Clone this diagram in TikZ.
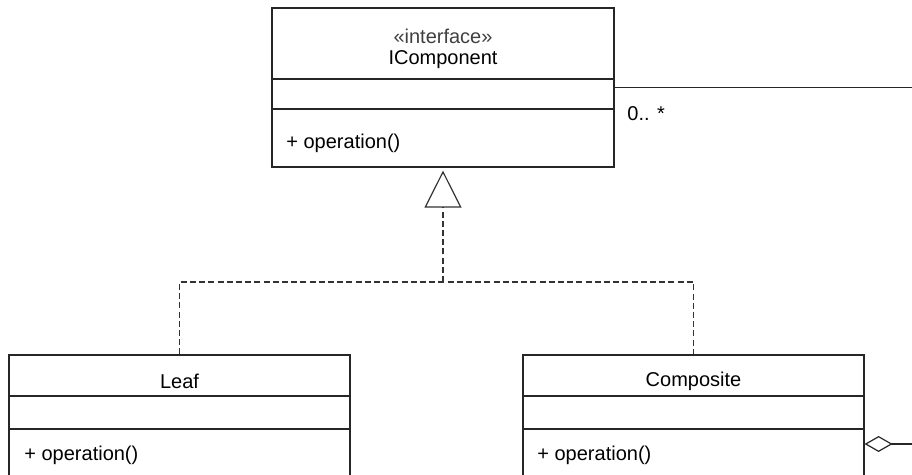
\documentclass[tikz,border=0pt]{standalone}
\usepackage{fontspec}
\setmainfont{Liberation Sans}
\usetikzlibrary{arrows.meta}

\begin{document}
\begin{tikzpicture}[x=0.5pt, y=-0.5pt,
	classbox/.style={shape=rectangle, draw=black!85, line width=0.6pt, inner sep=0pt, minimum width=170.5pt},
	divider/.style={draw=black!85, line width=0.6pt},
	umltext/.style={inner sep=0pt, font=\fontsize{10}{12}\selectfont},
	realize/.style={draw=black!80, line width=0.6pt, dash pattern=on 3pt off 1.6pt}]

	\clip (0, 0) rectangle (912, 475);

	\node[classbox, minimum width=171pt, minimum height=79.5pt] (icomp) at (443, 87.5) {};
	\node[classbox, minimum height=72.5pt] (leaf) at (179.5, 427.5) {};
	\node[classbox, minimum height=72.5pt] (comp) at (693.5, 427.5) {};

	\draw[divider] (272, 79)  -- (614, 79);
	\draw[divider] (272, 109) -- (614, 109);
	\draw[divider] (9, 396)   -- (350, 396);
	\draw[divider] (9, 429)   -- (350, 429);
	\draw[divider] (523, 396) -- (864, 396);
	\draw[divider] (523, 429) -- (864, 429);

	\node[umltext, text=black!75] (stereo) at (443, 36) {«interface»};
	\node[umltext] (icompname) at (443, 60) {IComponent};
	\node[umltext, anchor=west] (icompop) at (286, 143) {+ operation()};
	\node[umltext, anchor=west] (mult) at (627, 114) {0.. *};

	\node[umltext] (leafname) at (179.5, 381) {Leaf};
	\node[umltext, anchor=west] (leafop) at (24, 455) {+ operation()};
	\node[umltext] (compname) at (693.5, 381) {Composite};
	\node[umltext, anchor=west] (compop) at (537, 455) {+ operation()};

	\coordinate (fork) at (443, 282);
	\coordinate (outA) at (912, 87.5);
	\coordinate (outB) at (912, 444);

	\draw[realize] (leaf.north) |- (fork) -| (comp.north);
	\draw[realize, -{Triangle[open, length=18.5pt, width=18.5pt]}, shorten >=1.5pt] (fork) -- (icomp.south);

	\draw[divider] (icomp.east) -- (outA);
	\draw[divider, {Diamond[open, length=14pt, width=8pt]}-] (comp.east |- outB) -- (outB);

\end{tikzpicture}
\end{document}
